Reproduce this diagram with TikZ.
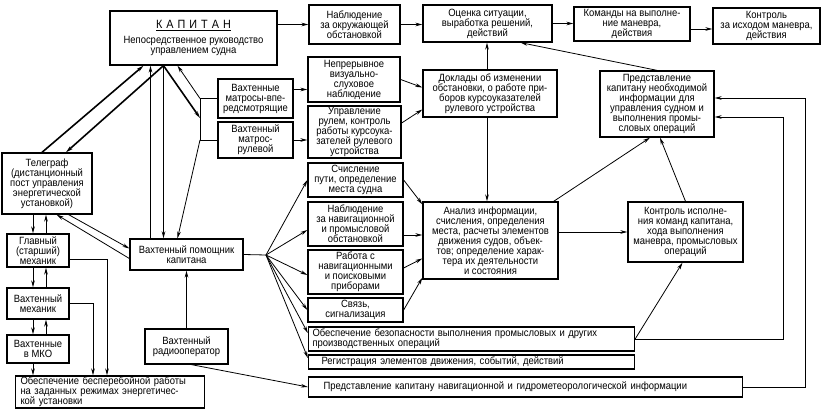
\documentclass[tikz,border=0pt]{standalone}
\usepackage{fontspec}
\setmainfont{Liberation Sans}[FakeStretch=0.9]
\usetikzlibrary{arrows.meta,calc}
\begin{document}
\begin{tikzpicture}[x=1pt,y=-1pt,
  box/.style={draw, line width=1.3pt, inner sep=1pt, align=center, font=\fontsize{10.5}{10}\selectfont},
  lbox/.style={box, align=left},
  ln/.style={line width=0.8pt},
  arr/.style={ln, -{Stealth[length=7pt,width=3.6pt]}},
  thk/.style={line width=1.6pt}]
\fill[white] (0,0) rectangle (827,419);
\useasboundingbox (0,0) rectangle (827,419);

% ---------- nodes ----------
\node[box, minimum width=167pt, minimum height=54pt] (cap) at (193.5,38)
 {{\fontsize{12}{12}\selectfont\underline{К\hspace{4pt}А\hspace{4pt}П\hspace{4pt}И\hspace{4pt}Т\hspace{4pt}А\hspace{4pt}Н}}\\[5pt]Непосредственное руководство\\управлением судна};
\node[box, minimum width=91pt, minimum height=39pt] (nab) at (354.5,24.5) {Наблюдение\\за окружающей\\обстановкой};
\node[box, minimum width=129pt, minimum height=37pt] (oc) at (487.5,23.5) {Оценка ситуации,\\выработка решений,\\действий};
\node[box, minimum width=116pt, minimum height=34pt] (kom) at (632,24) {Команды на выполне-\\ние маневра,\\действия};
\node[box, minimum width=107pt, minimum height=36pt] (kon) at (766.5,26) {Контроль\\за исходом маневра,\\действия};
\node[box, minimum width=75pt, minimum height=39pt] (mv) at (255.5,98.5) {Вахтенные\\матросы-впе-\\редсмотрящие};
\node[box, minimum width=75pt, minimum height=36pt] (mr) at (255.5,140) {Вахтенный\\матрос-\\рулевой};
\node[box, minimum width=92pt, minimum height=45pt] (nep) at (354,79.5) {Непрерывное\\визуально-\\слуховое\\наблюдение};
\node[box, minimum width=93pt, minimum height=52pt] (upr) at (354.5,132) {Управление\\рулем, контроль\\работы курсоука-\\зателей рулевого\\устройства};
\node[box, minimum width=134pt, minimum height=47pt] (dok) at (490,93.5) {Доклады об изменении\\обстановки, о работе при-\\боров курсоуказателей\\рулевого устройства};
\node[box, minimum width=114pt, minimum height=66pt] (pred) at (657,104) {Представление\\капитану необходимой\\информации для\\управления судном и\\выполнения промы-\\словых операций};
\node[box, minimum width=90pt, minimum height=61pt] (tel) at (47,183.5) {Телеграф\\(дистанционный\\пост управления\\энергетической\\установкой)};
\node[box, minimum width=62pt, minimum height=33pt] (glav) at (38,250.5) {Главный\\(старший)\\механик};
\node[box, minimum width=62pt, minimum height=31pt] (vmeh) at (38,303.5) {Вахтенный\\механик};
\node[box, minimum width=62pt, minimum height=28pt] (mko) at (38,349) {Вахтенные\\в МКО};
\node[lbox, text width=187pt, minimum height=32pt] (obesp) at (110,392) {\hspace*{4pt}Обеспечение бесперебойной работы\\\hspace*{4pt}на заданных режимах энергетичес-\\\hspace*{4pt}кой установки};
\node[box, minimum width=113pt, minimum height=31pt] (vp) at (186.5,254.5) {Вахтенный помощник\\капитана};
\node[box, minimum width=83pt, minimum height=35pt] (radio) at (186.5,346.5) {Вахтенный\\радиооператор};
\node[box, minimum width=95pt, minimum height=34pt] (sch) at (355.5,180) {Счисление\\пути, определение\\места судна};
\node[box, minimum width=95pt, minimum height=44pt] (nnav) at (355.5,224) {Наблюдение\\за навигационной\\и промысловой\\обстановкой};
\node[box, minimum width=95pt, minimum height=44pt] (rab) at (355.5,272) {Работа с\\навигационными\\и поисковыми\\приборами};
\node[box, minimum width=95pt, minimum height=24pt] (svz) at (355.5,310) {Связь,\\сигнализация};
\node[lbox, text width=324pt, minimum height=24pt] (bez) at (471.5,339) {\hspace*{3pt}Обеспечение безопасности выполнения промысловых и других\\\hspace*{3pt}производственных операций};
\node[lbox, text width=324pt, minimum height=14pt, inner ysep=0.5pt] (reg) at (471.5,362) {\hspace*{12pt}Регистрация элементов движения, событий, действий};
\node[lbox, text width=432pt, minimum height=20pt] (prn) at (525.5,387) {\hspace*{14pt}Представление капитану навигационной и гидрометеорологической информации};
\node[box, minimum width=135pt, minimum height=77pt] (an) at (490.5,240.5) {Анализ информации,\\счисления, определения\\места, расчеты элементов\\движения судов, объек-\\тов; определение харак-\\тера их деятельности\\и состояния};
\node[box, minimum width=115pt, minimum height=60pt] (kis) at (685.5,232) {Контроль исполне-\\ния команд капитана,\\хода выполнения\\маневра, промысловых\\операций};

% ---------- helper coordinates ----------
\coordinate (fan) at (266,255);
\coordinate (brT) at (200,98.5);
\coordinate (brB) at (200,140);
\coordinate (brM) at (200,118);
\coordinate (r1) at (783,117);
\coordinate (r2) at (805,98);
\coordinate (k1) at ($(kom.east)+(0,5)$);
\coordinate (m1) at ($(mv.east)+(0,-9)$);
\coordinate (m2) at (mr.east);
\coordinate (d1) at ($(dok.north)+(-3,0)$);
\coordinate (d2) at ($(dok.south)+(-3,0)$);
\coordinate (n1) at ($(nnav.east)+(0,11)$);
\coordinate (c1) at ($(cap.south)+(-30,0)$);
\coordinate (c2) at ($(vp.north)+(-36,0)$);
\coordinate (t1) at ($(tel.south)+(-14,0)$);
\coordinate (t2) at ($(glav.north)+(8,0)$);
\coordinate (g1) at ($(glav.south)+(-5,0)$);
\coordinate (g2) at ($(vmeh.north)+(8,0)$);
\coordinate (v1) at ($(vmeh.south)+(-5,0)$);
\coordinate (v2) at ($(mko.north)+(8,0)$);
\coordinate (o1) at ($(mko.south)+(-5,0)$);

% ---------- top row ----------
\draw[arr] (cap.east |- nab.west) -- (nab.west);
\draw[arr] (nab.east) -- (nab.east -| oc.west);
\draw[arr] (oc.east) -- (oc.east -| kom.west);
\draw[arr] (k1) -- (k1 -| kon.west);

% ---------- matros ----------
\draw[ln] (mv.west) -- (brT) -- (brB) -- (mr.west);
\draw[arr] (m1) -- (m1 -| nep.west);
\draw[arr] (m2) -- (m2 -| upr.west);
\draw[arr] (nep.east) -- ($(dok.west)+(0,-6)$);
\draw[arr] ($(upr.east)+(0,-9)$) -- ($(dok.west)+(0,16)$);
\draw[arr] (d1) -- (d1 |- oc.south);
\draw[arr] (d2) -- (d2 |- an.north);
\draw[arr] (pred.north) -- ($(oc.south east)+(-32,0)$);
\draw[arr] ($(an.north east)+(-5,0)$) -- ($(pred.south)+(-7,0)$);
\draw[arr] (kis.north) -- ($(pred.south)+(3,0)$);
\draw[arr] (an.east |- kis.west) -- (kis.west);
\draw[arr] (bez.east) -- ($(kis.south)+(-3,0)$);
\draw[arr] (bez.east) -| (r1) -- (r1 -| pred.east);
\draw[arr] (prn.east) -| (r2) -- (r2 -| pred.east);

% ---------- analysis inputs ----------
\draw[arr] (sch.east) -- ($(an.north west)+(0,3)$);
\draw[arr] (n1) -- (n1 -| an.west);
\draw[arr] ($(rab.east)+(0,-4)$) -- ($(an.west)+(0,18)$);
\draw[arr] (svz.east) -- ($(an.south west)+(0,-2)$);

% ---------- fan from watch officer ----------
\draw[ln] (vp.east) -- (fan);
\draw[arr] (fan) -- (sch.west);
\draw[arr] (fan) -- ($(nnav.west)+(0,6)$);
\draw[arr] (fan) -- ($(rab.west)+(0,3)$);
\draw[arr] (fan) -- (svz.west);
\draw[arr] (fan) -- ($(bez.west)+(0,-6)$);
\draw[arr] (fan) -- ($(reg.west)+(0,-4)$);

% ---------- radio ----------
\draw[arr] ($(radio.south)+(5,0)$) -- (prn.west);
\draw[arr] (radio.north) -- (radio.north |- vp.south);

% ---------- captain links ----------
\draw[arr,thk] (c1) -- (c1 |- vp.north);
\draw[arr] (c2) -- (c2 |- cap.south);
\draw[arr,thk] (c1) -- ($(tel.north)+(19,0)$);
\draw[arr,thk] ($(tel.north)+(-5,0)$) -- ($(cap.south)+(-50,0)$);
\draw[arr,thk] (c1) -- (brM);
\draw[arr] (brT) -- ($(cap.south)+(-16,0)$);
\draw[arr] (brB) -- ($(vp.north)+(-9,0)$);

% ---------- telegraph & engine ----------
\draw[arr] ($(tel.south east)+(-24,0)$) -- ($(vp.west)+(0,-6)$);
\draw[arr] ($(vp.west)+(0,4)$) -- ($(tel.south east)+(-36,0)$);
\draw[arr] (t1) -- (t1 |- glav.north);
\draw[arr] (t2) -- (t2 |- tel.south);
\draw[arr] (g1) -- (g1 |- vmeh.north);
\draw[arr] (g2) -- (g2 |- glav.south);
\draw[arr] (v1) -- (v1 |- mko.north);
\draw[arr] (v2) -- (v2 |- vmeh.south);
\draw[arr] (o1) -- (o1 |- obesp.north);
\draw[arr] ($(glav.east)+(0,9)$) -| ($(obesp.north)+(-3,0)$);
\draw[arr] (vmeh.east) -| ($(obesp.north)+(-17,0)$);
\end{tikzpicture}
\end{document}
